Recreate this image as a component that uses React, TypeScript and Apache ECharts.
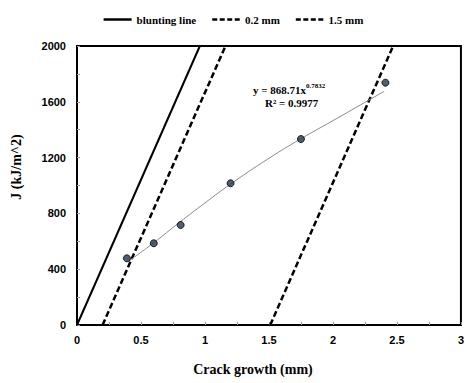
import React, { useEffect, useRef } from "react";
import * as echarts from "echarts";

const xTicks = [0, 0.5, 1, 1.5, 2, 2.5, 3];
const yTicks = [0, 400, 800, 1200, 1600, 2000];

const bluntingLine: [number, number][] = [[0, 0], [0.96, 2000]];
const offset02: [number, number][] = [[0.2, 0], [1.16, 2000]];
const offset15: [number, number][] = [[1.51, 0], [2.47, 2000]];

const crackGrowth = [0.39, 0.6, 0.81, 1.2, 1.75, 2.41];
const jValues = [478, 586, 717, 1016, 1333, 1737];

const trendX = [0.4, 0.6, 0.8, 1.0, 1.2, 1.5, 1.75, 2.0, 2.4];
const trendY = [455, 590, 735, 875, 1010, 1195, 1335, 1465, 1675];

const legendNames = ["blunting line", "0.2 mm", "1.5 mm"];
const equationText = "y = 868.71x";
const equationExp = "0.7832";
const rSquaredText = "R² = 0.9977";

const solidIcon = "path://M0,0H28V2.5H0Z";
const dashIcon = "path://M0,0H5V2.5H0Z M7.5,0H12.5V2.5H7.5Z M15,0H20V2.5H15Z M22.5,0H27.5V2.5H22.5Z";

export default function App() {
  const ref = useRef<HTMLDivElement>(null);
  useEffect(() => {
    if (!ref.current) return;
    const chart = echarts.init(ref.current, undefined, { renderer: "svg" });
    const serif = "'Liberation Serif', 'Times New Roman', serif";
    const sans = "'Liberation Sans', Arial, sans-serif";
    chart.setOption({
      animation: false,
      backgroundColor: "#fff",
      legend: {
        data: [
          { name: legendNames[0], icon: solidIcon },
          { name: legendNames[1], icon: dashIcon },
          { name: legendNames[2], icon: dashIcon },
        ],
        top: 9,
        left: "center",
        itemWidth: 28,
        itemHeight: 2.5,
        itemGap: 16,
        itemStyle: { color: "#000", borderWidth: 0 },
        textStyle: { fontFamily: serif, fontWeight: "bold", fontSize: 11, color: "#000" },
      },
      grid: {
        left: 77,
        right: 2,
        top: 46,
        bottom: 58,
        show: true,
        borderColor: "#000",
        borderWidth: 2,
        backgroundColor: "transparent",
      },
      xAxis: {
        type: "value",
        min: xTicks[0],
        max: xTicks[xTicks.length - 1],
        interval: 0.5,
        axisLine: { show: true, lineStyle: { color: "#000", width: 2 } },
        axisTick: { show: true, inside: true, length: 3, lineStyle: { color: "#999" } },
        minorTick: { show: true, splitNumber: 2, length: 3, lineStyle: { color: "#999" } },
        splitLine: { show: false },
        axisLabel: {
          fontFamily: sans,
          fontWeight: "bold",
          fontSize: 11,
          color: "#000",
          margin: 9,
          showMaxLabel: true,
          showMinLabel: true,
          formatter: (v: number) => String(v),
        },
      },
      yAxis: {
        type: "value",
        min: yTicks[0],
        max: yTicks[yTicks.length - 1],
        interval: 400,
        axisLine: { show: true, lineStyle: { color: "#000", width: 2 } },
        axisTick: { show: true, inside: true, length: 3, lineStyle: { color: "#999" } },
        minorTick: { show: true, splitNumber: 2, length: 3, lineStyle: { color: "#999" } },
        splitLine: { show: false },
        axisLabel: {
          fontFamily: sans,
          fontWeight: "bold",
          fontSize: 11,
          color: "#000",
          margin: 11,
          formatter: (v: number) => String(v),
        },
      },
      graphic: [
        {
          type: "text",
          x: 253,
          y: 369,
          style: {
            text: "Crack growth (mm)",
            font: `bold 14px ${serif}`,
            fill: "#000",
            align: "center",
            verticalAlign: "middle",
          },
        },
        {
          type: "text",
          x: 16,
          y: 167,
          rotation: Math.PI / 2,
          style: {
            text: "J (kJ/m^2)",
            font: `bold 14px ${serif}`,
            fill: "#000",
            align: "center",
            verticalAlign: "middle",
          },
        },
        {
          type: "text",
          x: 253,
          y: 89,
          style: {
            text: `{b|${equationText}}{s|${equationExp}}`,
            rich: {
              b: { font: `bold 11px ${serif}`, fill: "#000", verticalAlign: "bottom" },
              s: { font: `bold 7px ${serif}`, fill: "#000", verticalAlign: "top", padding: [0, 0, 6, 0] },
            },
            verticalAlign: "middle",
          },
        },
        {
          type: "text",
          x: 265,
          y: 103,
          style: { text: rSquaredText, font: `bold 11px ${serif}`, fill: "#000", verticalAlign: "middle" },
        },
      ],
      series: [
        {
          name: legendNames[0],
          type: "line",
          data: bluntingLine,
          symbol: "none",
          lineStyle: { color: "#000", width: 2, type: "solid" },
          itemStyle: { color: "#000" },
        },
        {
          name: legendNames[1],
          type: "line",
          data: offset02,
          symbol: "none",
          lineStyle: { color: "#000", width: 2.5, type: [6, 3] },
          itemStyle: { color: "#000" },
        },
        {
          name: legendNames[2],
          type: "line",
          data: offset15,
          symbol: "none",
          lineStyle: { color: "#000", width: 2.5, type: [6, 3] },
          itemStyle: { color: "#000" },
        },
        {
          name: "trend",
          type: "line",
          data: trendX.map((x, i) => [x, trendY[i]]),
          symbol: "none",
          smooth: true,
          lineStyle: { color: "#8a8a8a", width: 1 },
          z: 3,
        },
        {
          name: "data",
          type: "scatter",
          data: crackGrowth.map((x, i) => [x, jValues[i]]),
          symbol: "circle",
          symbolSize: 7,
          itemStyle: { color: "#26344f", borderColor: "#000", borderWidth: 1 },
          z: 4,
        },
      ],
    });
    return () => chart.dispose();
  }, []);
  return (
    <div
      ref={ref}
      style={{ position: "absolute", left: 0, top: 0, width: 467, height: 383, overflow: "hidden" }}
    />
  );
}
